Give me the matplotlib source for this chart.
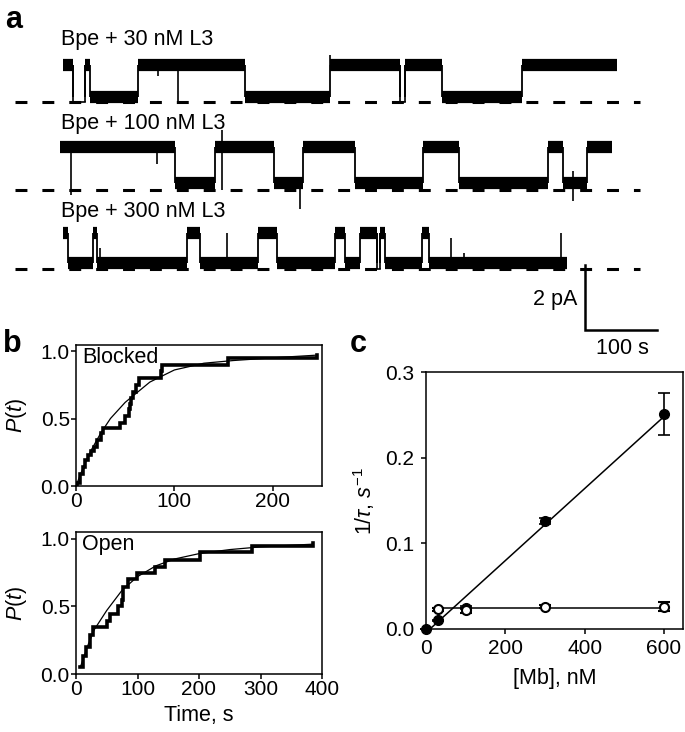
import numpy as np
import matplotlib
matplotlib.use('Agg')
import matplotlib.pyplot as plt

plt.rcParams['font.family'] = ['Liberation Sans', 'DejaVu Sans']
plt.rcParams['mathtext.fontset'] = 'custom'
plt.rcParams['mathtext.rm'] = 'Liberation Sans'
plt.rcParams['mathtext.it'] = 'Liberation Sans:italic'
plt.rcParams['mathtext.bf'] = 'Liberation Sans:bold'

# ---------------- data: panel a (time in s, current in pA) ----------------
trace_labels = ['Bpe + 30 nM L3', 'Bpe + 100 nM L3', 'Bpe + 300 nM L3']

trace1_edges = [4, 18, 35, 42, 108, 257, 375, 472, 479, 531, 642, 774]
trace1_states = [1, 0, 1, 0, 1, 0, 1, 0, 1, 0, 1]
trace1_quiet = [1, 7]
trace1_levels = [0.14, 1.13]          # blocked, open
trace1_spikes = [(136, 0.8, 1.13), (164, 0.0, 1.13), (375, 1.13, 1.45)]

trace2_edges = [0, 160, 215, 297, 338, 410, 504, 554, 678, 699, 732, 767]
trace2_states = [1, 0, 1, 0, 1, 0, 1, 0, 1, 0, 1]
trace2_quiet = []
trace2_levels = [0.22, 1.32]
trace2_spikes = [(15, -0.15, 1.32), (135, 0.8, 1.32), (225, 0.0, 1.85),
                 (333, -0.6, 0.22), (712, -0.35, 0.6)]

trace3_edges = [4, 11, 46, 51, 176, 194, 275, 301, 382, 396, 417, 440, 444,
                451, 503, 513, 704]
trace3_states = [1, 0, 1, 0, 1, 0, 1, 0, 1, 0, 1, 0, 1, 0, 1, 0]
trace3_quiet = [11]
trace3_levels = [0.17, 1.1]
trace3_spikes = [(56, 0.17, 0.65), (232, 0.17, 1.1), (543, 0.17, 0.95),
                 (561, 0.17, 0.5), (696, 0.17, 1.1)]

scale_current = 2      # pA
scale_time = 100       # s

# ---------------- data: panel b (dwell time in s, cumulative probability) ----------------
blocked_t = [1, 4, 7, 9, 12, 15, 18, 21, 25, 27, 45, 50, 54, 55, 56, 58, 61, 64, 86, 87, 154, 245]
blocked_P = [0.02, 0.09, 0.14, 0.19, 0.23, 0.26, 0.29, 0.34, 0.39, 0.43, 0.47, 0.52,
             0.57, 0.61, 0.65, 0.70, 0.75, 0.80, 0.85, 0.90, 0.95, 0.97]
blocked_fit_t = [0, 5, 10, 15, 25, 35, 50, 75, 100, 130, 160, 200, 245]
blocked_fit_P = [0.0, 0.095, 0.18, 0.26, 0.39, 0.50, 0.62, 0.77, 0.86, 0.91, 0.93, 0.95, 0.97]

open_t = [7, 12, 16, 22, 28, 50, 55, 69, 74, 77, 85, 99, 129, 145, 202, 286, 385]
open_P = [0.05, 0.13, 0.20, 0.29, 0.35, 0.39, 0.44, 0.50, 0.55, 0.64, 0.70, 0.75,
          0.79, 0.84, 0.90, 0.95, 0.97]
open_fit_t = [7, 20, 30, 50, 75, 100, 130, 160, 200, 250, 300, 385]
open_fit_P = [0.05, 0.22, 0.33, 0.47, 0.62, 0.72, 0.80, 0.85, 0.89, 0.92, 0.94, 0.96]

# ---------------- data: panel c ----------------
mb_filled = [0, 30, 100, 300, 600]
rate_filled = [0.0, 0.010, 0.025, 0.126, 0.251]
err_filled = [0.0, 0.001, 0.002, 0.004, 0.025]
fit_filled_x = [10, 600]
fit_filled_y = [0.0, 0.248]

mb_open = [30, 100, 300, 600]
rate_open = [0.023, 0.022, 0.026, 0.026]
err_open = [0.002, 0.003, 0.002, 0.005]
fit_open_x = [30, 600]
fit_open_y = [0.0245, 0.0245]

# ---------------- layout helpers ----------------
W, H = 685, 732
fig = plt.figure(figsize=(W / 100, H / 100), dpi=100)


def box(l, t, r, b):
    return [l / W, 1 - b / H, (r - l) / W, (b - t) / H]


# ---------------- panel a ----------------
PX_PER_S = 0.72
PX_PER_PA = 32.5
X0 = 60
A_BOTTOM = 365
axa = fig.add_axes(box(0, 0, W, A_BOTTOM))
axa.set_xlim((0 - X0) / PX_PER_S, (W - X0) / PX_PER_S)
axa.set_ylim(-A_BOTTOM / PX_PER_PA, 0)
axa.axis('off')
axa.patch.set_alpha(0)

baselines_px = [101.7, 190, 269]
label_px = [45, 129, 217]
traces = [
    (trace1_edges, trace1_states, trace1_quiet, trace1_levels, trace1_spikes),
    (trace2_edges, trace2_states, trace2_quiet, trace2_levels, trace2_spikes),
    (trace3_edges, trace3_states, trace3_quiet, trace3_levels, trace3_spikes),
]
dash_start = (15 - X0) / PX_PER_S
dash_end = (640 - X0) / PX_PER_S
for k, (edges, states, quiet, levels, spikes) in enumerate(traces):
    base = -baselines_px[k] / PX_PER_PA
    axa.plot([dash_start, dash_end], [base, base], color='k', lw=2.2,
             ls=(0, (3.9, 4.9)), solid_capstyle='butt', dash_capstyle='butt', zorder=1)
    lv = [base + levels[0], base + levels[1]]
    for i, s in enumerate(states):
        t0, t1 = edges[i], edges[i + 1]
        if i in quiet:
            axa.plot([t0, t1], [base, base], color='k', lw=1.2, zorder=3)
            axa.vlines([t0, t1], base, lv[1], color='k', lw=1.2, zorder=3)
        else:
            axa.hlines(lv[s], t0, t1, color='k', lw=8.8, zorder=3, capstyle='butt')
    for e in edges[1:-1]:
        axa.vlines(e, lv[0], lv[1], color='k', lw=1.3, zorder=3)
    for (t, lo, hi) in spikes:
        axa.vlines(t, base + lo, base + hi, color='k', lw=1.2, zorder=3)
    axa.text((61 - X0) / PX_PER_S, -label_px[k] / PX_PER_PA, trace_labels[k],
             fontsize=15.5, ha='left', va='baseline')

# scale bar
sb_x = (585 - X0) / PX_PER_S
sb_y = -330 / PX_PER_PA
axa.plot([sb_x, sb_x, sb_x + scale_time], [sb_y + scale_current, sb_y, sb_y],
         color='k', lw=1.8, solid_joinstyle='miter')
axa.text(sb_x - 10, sb_y + scale_current / 2 - 0.05, f'{scale_current} pA',
         fontsize=15.5, ha='right', va='center')
axa.text(sb_x + scale_time / 2 + 2, sb_y - 0.25, f'{scale_time} s',
         fontsize=15.5, ha='center', va='top')


def style(ax, ypad=2, xpad=2):
    for sp in ax.spines.values():
        sp.set_linewidth(1.1)
    ax.tick_params(direction='out', length=3.5, width=1.1, labelsize=15)
    ax.tick_params(axis='y', pad=ypad)
    ax.tick_params(axis='x', pad=xpad)


# ---------------- panel b ----------------
axb1 = fig.add_axes(box(76, 345, 322, 486))
axb1.plot([0] + blocked_t, [0] + blocked_P, drawstyle='steps-post', color='k', lw=2.6,
          solid_joinstyle='miter')
axb1.plot(blocked_fit_t, blocked_fit_P, color='k', lw=0.9)
axb1.set_xlim(0, 250)
axb1.set_ylim(0, 1.045)
axb1.set_xticks([0, 100, 200])
axb1.set_yticks([0, 0.5, 1.0])
axb1.set_yticklabels(['0.0', '0.5', '1.0'])
axb1.text(0.025, 0.985, 'Blocked', transform=axb1.transAxes, fontsize=15.5,
          ha='left', va='top')
style(axb1, ypad=1, xpad=1)

axb2 = fig.add_axes(box(76, 532, 322, 674))
axb2.plot(open_t, open_P, drawstyle='steps-post', color='k', lw=2.6,
          solid_joinstyle='miter')
axb2.plot(open_fit_t, open_fit_P, color='k', lw=0.9)
axb2.set_xlim(0, 400)
axb2.set_ylim(0, 1.05)
axb2.set_xticks([0, 100, 200, 300, 400])
axb2.set_yticks([0, 0.5, 1.0])
axb2.set_yticklabels(['0.0', '0.5', '1.0'])
axb2.text(0.025, 0.985, 'Open', transform=axb2.transAxes, fontsize=15.5,
          ha='left', va='top')
axb2.set_xlabel('Time, s', fontsize=15.5, labelpad=4)
style(axb2, ypad=1, xpad=1)

for ax in (axb1, axb2):
    ax.set_ylabel(r'$P$($t$)', fontsize=15.5, labelpad=8)

# ---------------- panel c ----------------
axc = fig.add_axes(box(426, 372, 683, 629))
axc.plot(fit_filled_x, fit_filled_y, color='k', lw=1.1)
axc.plot(fit_open_x, fit_open_y, color='k', lw=1.1)
axc.errorbar(mb_filled, rate_filled, yerr=err_filled, fmt='o', color='k', ms=7,
             capsize=4, elinewidth=1.2, capthick=1.2, clip_on=False, zorder=4)
axc.errorbar(mb_open, rate_open, yerr=err_open, fmt='o', color='k', mfc='white',
             mec='k', mew=1.5, ms=6.5, capsize=4, elinewidth=1.2, capthick=1.2,
             clip_on=False, zorder=4)
axc.set_xlim(0, 648)
axc.set_ylim(0, 0.3)
axc.set_xticks([0, 200, 400, 600])
axc.set_yticks([0, 0.1, 0.2, 0.3])
axc.set_yticklabels(['0.0', '0.1', '0.2', '0.3'])
axc.set_xlabel('[Mb], nM', fontsize=15.5, labelpad=7)
axc.set_ylabel(r'$1/\tau$, $s^{-1}$', fontsize=15.5, labelpad=6)
style(axc, ypad=5, xpad=4)

# panel letters
fig.text(5 / W, 1 - 28 / H, 'a', fontsize=22, fontweight='bold', ha='left', va='baseline')
fig.text(3 / W, 1 - 352 / H, 'b', fontsize=22, fontweight='bold', ha='left', va='baseline')
fig.text(350 / W, 1 - 352 / H, 'c', fontsize=22, fontweight='bold', ha='left', va='baseline')

fig.savefig('out.png', dpi=100)
